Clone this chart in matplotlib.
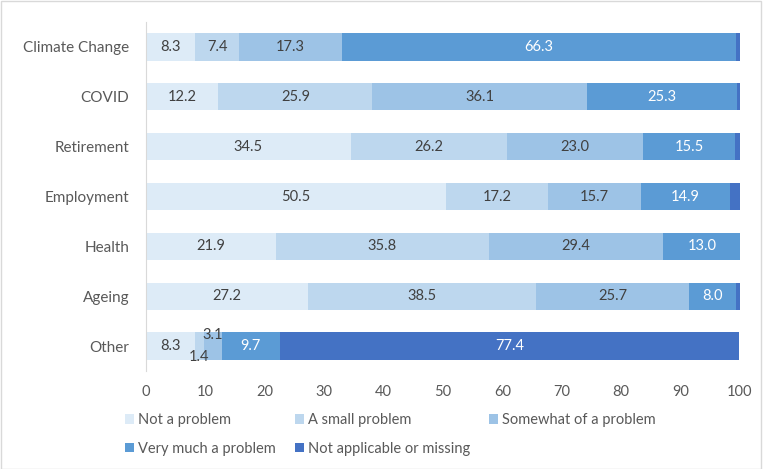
import numpy as np
import matplotlib.pyplot as plt
from matplotlib.patches import Rectangle

plt.rcParams['font.family'] = ['Lato', 'DejaVu Sans']

categories = ['Climate Change', 'COVID', 'Retirement', 'Employment', 'Health', 'Ageing', 'Other']
series_names = ['Not a problem', 'A small problem', 'Somewhat of a problem',
                'Very much a problem', 'Not applicable or missing']
not_a_problem = [8.3, 12.2, 34.5, 50.5, 21.9, 27.2, 8.3]
small_problem = [7.4, 25.9, 26.2, 17.2, 35.8, 38.5, 1.4]
somewhat_problem = [17.3, 36.1, 23.0, 15.7, 29.4, 25.7, 3.1]
very_much_problem = [66.3, 25.3, 15.5, 14.9, 13.0, 8.0, 9.7]
not_applicable = [0.7, 0.5, 0.8, 1.7, 0.0, 0.6, 77.4]
x_ticks = [0, 10, 20, 30, 40, 50, 60, 70, 80, 90, 100]

colors = ['#DDEBF7', '#BDD7EE', '#9DC3E6', '#5B9BD5', '#4472C4']
text_colors = ['#404040', '#404040', '#404040', 'white', 'white']
series = [not_a_problem, small_problem, somewhat_problem, very_much_problem, not_applicable]

fig = plt.figure(figsize=(7.63, 4.69), dpi=100)
ax = fig.add_axes([146 / 763, 1 - 371 / 469, (740 - 146) / 763, 349 / 469])

y = np.arange(len(categories))
left = np.zeros(len(categories))
handles = []
for i, vals in enumerate(series):
    vals = np.array(vals)
    bars = ax.barh(y, vals, left=left, height=0.55, color=colors[i], label=series_names[i])
    handles.append(bars)
    for j, v in enumerate(vals):
        # tiny remainders are not labelled, except the "Other" row
        if i == 4 and categories[j] != 'Other':
            continue
        if v <= 0:
            continue
        dy = 0
        if categories[j] == 'Other' and i == 1:
            dy = 0.22
        if categories[j] == 'Other' and i == 2:
            dy = -0.22
        ax.text(left[j] + v / 2, y[j] + dy, f'{v:.1f}', ha='center', va='center',
                fontsize=10.5, color=text_colors[i])
    left += vals

ax.set_ylim(len(categories) - 0.5, -0.5)
ax.set_xlim(0, 100)
ax.set_yticks(y)
ax.set_yticklabels(categories, fontsize=11, color='#595959')
ax.set_xticks(x_ticks)
ax.set_xticklabels([str(t) for t in x_ticks], fontsize=10.5, color='#595959')
ax.tick_params(length=0)
ax.tick_params(axis='x', pad=10)
ax.tick_params(axis='y', pad=12)
for s in ['top', 'right', 'bottom']:
    ax.spines[s].set_visible(False)
ax.spines['left'].set_color('#D9D9D9')

order = [0, 3, 1, 4, 2]
leg = fig.legend([handles[k] for k in order], [series_names[k] for k in order],
                 ncol=3, loc='upper left', bbox_to_anchor=(112 / 763, 1 - 400 / 469),
                 frameon=False, fontsize=10.5, handlelength=0.6, handleheight=0.6,
                 handletextpad=0.3, columnspacing=1.3, labelspacing=1.0)
for t in leg.get_texts():
    t.set_color('#595959')

fig.add_artist(Rectangle((0.001, 0.001), 0.997, 0.997, transform=fig.transFigure,
                         fill=False, edgecolor='#D9D9D9', linewidth=1))

fig.savefig('out.png', dpi=100)
